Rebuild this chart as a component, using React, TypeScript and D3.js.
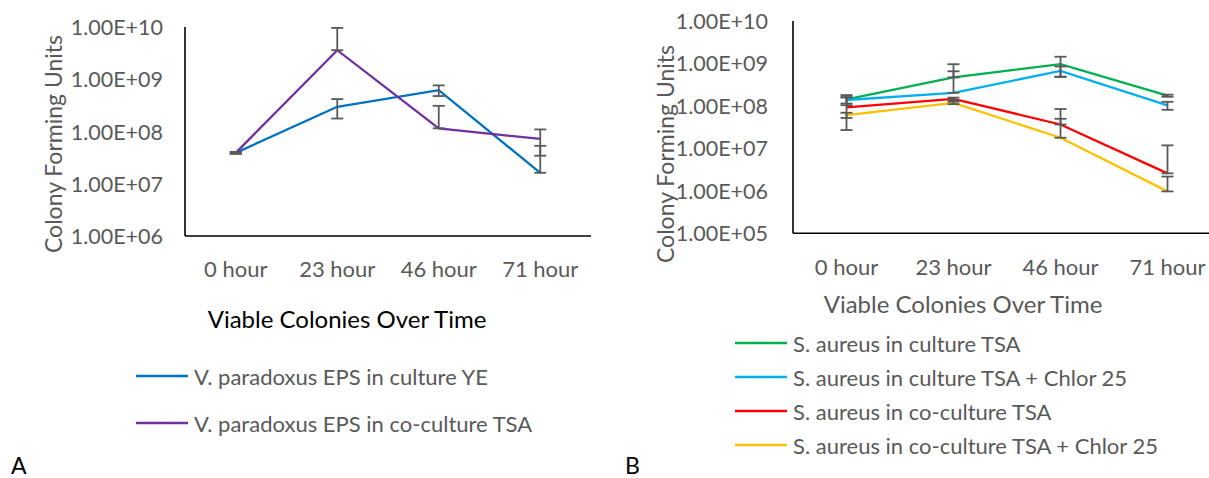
import React from "react";
import * as d3 from "d3";

const categories = ["0 hour", "23 hour", "46 hour", "71 hour"];

const ticksA = [1e6, 1e7, 1e8, 1e9, 1e10];
const ticksB = [1e5, 1e6, 1e7, 1e8, 1e9, 1e10];

// Panel A series (values and symmetric error amounts)
const vpCultureYE = [3.9e7, 2.97e8, 6.2e8, 1.62e7];
const vpCultureYEErr = [1.5e6, 1.2e8, 1.43e8, 3.7e7];
const vpCoCultureTSA = [3.9e7, 3.6e9, 1.15e8, 7.2e7];
const vpCoCultureTSAErr = [1.5e6, 6.0e9, 1.95e8, 3.76e7];

// Panel B series
const saCultureTSA = [1.42e8, 4.7e8, 9.6e8, 1.74e8];
const saCultureTSAErr = [3.8e7, 4.9e8, 4.8e8, 1.0e7];
const saCultureChlor = [1.38e8, 2.04e8, 6.7e8, 1.03e8];
const saCultureChlorErr = [2.4e7, 4.5e8, 1.8e8, 2.2e7];
const saCoCultureTSA = [9.2e7, 1.47e8, 3.65e7, 2.58e6];
const saCoCultureTSAErr = [6.5e7, 1.0e7, 4.8e7, 9.2e6];
const saCoCultureChlor = [6.05e7, 1.18e8, 1.78e7, 9.7e5];
const saCoCultureChlorErr = [8.5e6, 8e6, 3.2e7, 1.2e6];

type Series = { name: string; values: number[]; err: number[]; color: string };

const seriesA: Series[] = [
  { name: "V. paradoxus EPS in culture YE", values: vpCultureYE, err: vpCultureYEErr, color: "#0070C0" },
  { name: "V. paradoxus EPS in co-culture TSA", values: vpCoCultureTSA, err: vpCoCultureTSAErr, color: "#7030A0" },
];

const seriesB: Series[] = [
  { name: "S. aureus in culture TSA", values: saCultureTSA, err: saCultureTSAErr, color: "#00B050" },
  { name: "S. aureus in culture TSA + Chlor 25", values: saCultureChlor, err: saCultureChlorErr, color: "#00B0F0" },
  { name: "S. aureus in co-culture TSA", values: saCoCultureTSA, err: saCoCultureTSAErr, color: "#FF0000" },
  { name: "S. aureus in co-culture TSA + Chlor 25", values: saCoCultureChlor, err: saCoCultureChlorErr, color: "#FFC000" },
];

const FONT = "Lato, 'Open Sans', sans-serif";
const GREY = "#595959";

const fmtTick = (d: number) =>
  "1.00E+" + String(Math.round(Math.log10(d))).padStart(2, "0");

type PanelProps = {
  series: Series[];
  ticks: number[];
  xRange: [number, number];
  yRange: [number, number];
  tickLabelX: number;
  xLabelY: number;
  titleX: number;
  titleY: number;
  titleColor: string;
  yTitleX: number;
  yTitleY: number;
  legendX: [number, number];
  legendYs: number[];
  letter: string;
  letterX: number;
  clipRight: number;
};

function Panel(p: PanelProps) {
  const x = d3.scaleBand<string>().domain(categories).range(p.xRange).padding(0);
  const cx = (c: string) => (x(c) as number) + x.bandwidth() / 2;
  const y = d3
    .scaleLog()
    .domain([p.ticks[0], p.ticks[p.ticks.length - 1]])
    .range(p.yRange);
  const line = d3
    .line<number>()
    .x((_, i) => cx(categories[i]))
    .y((v) => y(v));
  const capW = 6;
  const axisRight = Math.min(p.xRange[1], p.clipRight);
  return (
    <g>
      {/* y tick labels */}
      {p.ticks.map((t) => (
        <text
          key={t}
          x={p.tickLabelX}
          y={y(t)}
          textAnchor="end"
          dominantBaseline="central"
          fontSize={21.5}
          fill={GREY}
          fontFamily={FONT}
        >
          {fmtTick(t)}
        </text>
      ))}
      {/* x tick labels */}
      {categories.map((c) => (
        <text
          key={c}
          x={cx(c)}
          y={p.xLabelY}
          textAnchor="middle"
          dominantBaseline="central"
          fontSize={22}
          fill={GREY}
          fontFamily={FONT}
        >
          {c}
        </text>
      ))}
      {/* axes */}
      <line x1={p.xRange[0]} x2={p.xRange[0]} y1={p.yRange[1]} y2={p.yRange[0]} stroke="#000" strokeWidth={1.6} />
      <line x1={p.xRange[0]} x2={axisRight} y1={p.yRange[0]} y2={p.yRange[0]} stroke="#000" strokeWidth={1.6} />
      {/* lines */}
      {p.series.map((s) => (
        <path key={s.name} d={line(s.values) || ""} fill="none" stroke={s.color} strokeWidth={2.3} />
      ))}
      {/* error bars */}
      {p.series.map((s) =>
        s.values.map((v, i) => {
          const hi = v + s.err[i];
          const loV = v - s.err[i];
          const lo = loV > 0 ? loV : v;
          const xx = cx(categories[i]);
          return (
            <g key={s.name + i} stroke={GREY} strokeWidth={1.8}>
              <line x1={xx} x2={xx} y1={y(hi)} y2={y(lo)} />
              <line x1={xx - capW} x2={xx + capW} y1={y(hi)} y2={y(hi)} />
              <line x1={xx - capW} x2={xx + capW} y1={y(lo)} y2={y(lo)} />
            </g>
          );
        })
      )}
      {/* axis titles */}
      <text
        x={p.titleX}
        y={p.titleY}
        textAnchor="middle"
        dominantBaseline="central"
        fontSize={24}
        fill={p.titleColor}
        fontFamily={FONT}
      >
        Viable Colonies Over Time
      </text>
      <text
        transform={`translate(${p.yTitleX},${p.yTitleY}) rotate(-90)`}
        textAnchor="middle"
        dominantBaseline="central"
        fontSize={23}
        fill={GREY}
        fontFamily={FONT}
      >
        Colony Forming Units
      </text>
      {/* legend */}
      {p.series.map((s, i) => (
        <g key={"lg" + s.name}>
          <line
            x1={p.legendX[0]}
            x2={p.legendX[1]}
            y1={p.legendYs[i]}
            y2={p.legendYs[i]}
            stroke={s.color}
            strokeWidth={2.3}
          />
          <text
            x={p.legendX[1] + 6}
            y={p.legendYs[i]}
            dominantBaseline="central"
            fontSize={22}
            fill={GREY}
            fontFamily={FONT}
          >
            {s.name}
          </text>
        </g>
      ))}
      <text x={p.letterX} y={465} dominantBaseline="central" fontSize={23} fill="#000" fontFamily={FONT}>
        {p.letter}
      </text>
    </g>
  );
}

export default function App() {
  return (
    <svg
      width={1209}
      height={478}
      style={{ position: "absolute", left: 0, top: 0, background: "#fff" }}
    >
      <rect width={1209} height={478} fill="#fff" />
      <Panel
        series={seriesA}
        ticks={ticksA}
        xRange={[185, 591]}
        yRange={[236, 27]}
        tickLabelX={163}
        xLabelY={268}
        titleX={347}
        titleY={318}
        titleColor="#000"
        yTitleX={53}
        yTitleY={144}
        legendX={[136, 188]}
        legendYs={[376, 423]}
        letter="A"
        letterX={11}
        clipRight={1209}
      />
      <Panel
        series={seriesB}
        ticks={ticksB}
        xRange={[793, 1221]}
        yRange={[233.3, 21]}
        tickLabelX={768}
        xLabelY={266}
        titleX={963}
        titleY={303}
        titleColor={GREY}
        yTitleX={665}
        yTitleY={154}
        legendX={[735, 787]}
        legendYs={[343, 377, 411, 445]}
        letter="B"
        letterX={625}
        clipRight={1209}
      />
    </svg>
  );
}
